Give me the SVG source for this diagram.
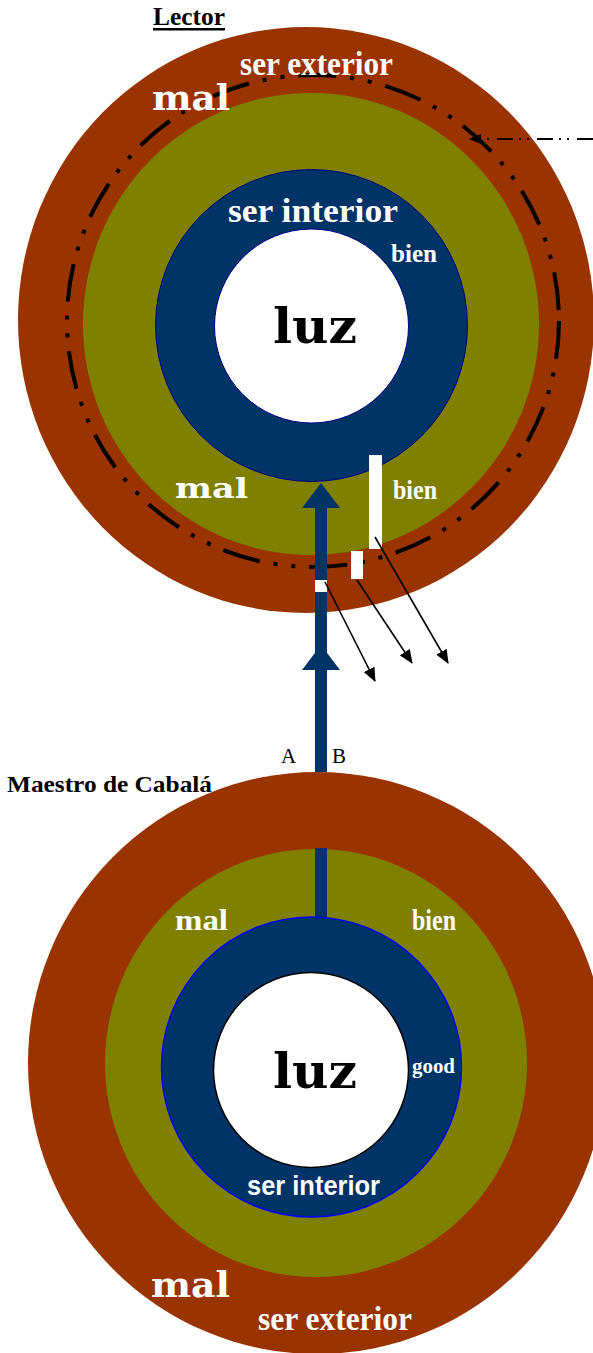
<svg xmlns="http://www.w3.org/2000/svg" width="593" height="1353" viewBox="0 0 593 1353">
<defs>
<style>
.brown{fill:#993300}
.olive{fill:#808000}
.navy{fill:#003366}
.w{fill:#ffffff}
.t{fill:#ffffff;font-family:"Liberation Serif","Times New Roman",serif;font-weight:bold}
.wide{fill:#ffffff;font-family:"DejaVu Serif",serif;font-weight:bold}
.blk{fill:#000000;font-family:"Liberation Serif","Times New Roman",serif}
.thin{stroke:#000;stroke-width:1.6;fill:none}
</style>
<marker id="ah" markerUnits="userSpaceOnUse" markerWidth="14" markerHeight="12" refX="13" refY="6" orient="auto">
<path d="M0,0 L14,6 L0,12 Z" fill="#000"/>
</marker>
<marker id="ahs" markerUnits="userSpaceOnUse" markerWidth="12" markerHeight="10" refX="11" refY="5" orient="auto">
<path d="M0,0 L12,5 L0,10 Z" fill="#000"/>
</marker>
</defs>

<text class="blk" x="153" y="25" font-size="25" font-weight="bold" textLength="72" lengthAdjust="spacingAndGlyphs">Lector</text>
<rect x="153" y="28" width="72" height="2.5" fill="#000"/>

<g id="top-circle">
<ellipse class="brown" cx="306" cy="320" rx="288" ry="293"/>
<ellipse class="olive" cx="311" cy="324" rx="228" ry="231"/>
<circle cx="311.5" cy="325.5" r="156" fill="#003366" stroke="#000080" stroke-width="1"/>
<circle cx="311.5" cy="326" r="97" fill="#ffffff" stroke="#000080" stroke-width="1"/>
<circle cx="313" cy="321" r="246" fill="none" stroke="#000" stroke-width="4" stroke-dasharray="38 14 4 14 4 14"/>
</g>

<g id="top-labels">
<text class="t" x="240" y="75" font-size="33" textLength="153" lengthAdjust="spacingAndGlyphs">ser exterior</text>
<text class="wide" x="152" y="110" font-size="36" textLength="78" lengthAdjust="spacingAndGlyphs">mal</text>
<text class="t" x="228" y="222" font-size="34" textLength="170" lengthAdjust="spacingAndGlyphs">ser interior</text>
<text class="t" x="391" y="262" font-size="26" textLength="46" lengthAdjust="spacingAndGlyphs">bien</text>
<text class="wide" x="273" y="343" font-size="48" fill="#000" style="fill:#000" textLength="84" lengthAdjust="spacingAndGlyphs">luz</text>
<text class="wide" x="175" y="498" font-size="27" textLength="73" lengthAdjust="spacingAndGlyphs">mal</text>
<text class="t" x="393" y="499" font-size="28" textLength="44" lengthAdjust="spacingAndGlyphs">bien</text>
</g>

<g id="connectors">
<rect class="navy" x="315" y="506" width="12" height="266"/>
<path class="navy" d="M321,483 L340,508 L302,508 Z"/>
<path class="navy" d="M321,645 L340,670 L302,670 Z"/>
<rect class="w" x="315" y="580" width="12" height="12"/>
<rect class="w" x="369" y="455" width="13" height="94"/>
<rect class="w" x="351" y="551" width="12" height="28"/>
<line class="thin" x1="325" y1="582" x2="375" y2="681" marker-end="url(#ah)"/>
<line class="thin" x1="357" y1="580" x2="412" y2="663" marker-end="url(#ah)"/>
<line class="thin" x1="375" y1="537" x2="448" y2="663" marker-end="url(#ah)"/>
<line x1="593" y1="139" x2="470" y2="139" stroke="#000" stroke-width="2" stroke-dasharray="16 8 2 6 2 6" marker-end="url(#ahs)"/>
</g>

<g id="ab-labels">
<text class="blk" x="281" y="763" font-size="21">A</text>
<text class="blk" x="332" y="763" font-size="21">B</text>
<text class="blk" x="7" y="792" font-size="24" font-weight="bold" textLength="205" lengthAdjust="spacingAndGlyphs">Maestro de Cabalá</text>
</g>

<g id="bottom-circle">
<ellipse class="brown" cx="317" cy="1063" rx="289" ry="291"/>
<ellipse class="olive" cx="316" cy="1063" rx="211" ry="214"/>
<rect class="navy" x="315" y="848" width="12" height="75"/>
<circle cx="311.5" cy="1067" r="150" fill="#003366" stroke="#0000ff" stroke-width="1.5"/>
<circle cx="311" cy="1070" r="97.5" fill="#ffffff" stroke="#000" stroke-width="1.5"/>
</g>

<g id="bottom-labels">
<text class="t" x="175" y="930" font-size="30" textLength="53" lengthAdjust="spacingAndGlyphs">mal</text>
<text class="t" x="412" y="930" font-size="30" textLength="44" lengthAdjust="spacingAndGlyphs">bien</text>
<text class="wide" x="273" y="1088" font-size="48" style="fill:#000" textLength="84" lengthAdjust="spacingAndGlyphs">luz</text>
<text class="t" x="412" y="1073" font-size="22" textLength="43" lengthAdjust="spacingAndGlyphs">good</text>
<text x="247" y="1195" font-size="28" fill="#fff" font-family="Liberation Sans, Arial, sans-serif" font-weight="bold" textLength="133" lengthAdjust="spacingAndGlyphs">ser interior</text>
<text class="wide" x="151" y="1297" font-size="36" textLength="79" lengthAdjust="spacingAndGlyphs">mal</text>
<text class="t" x="258" y="1330" font-size="33" textLength="154" lengthAdjust="spacingAndGlyphs">ser exterior</text>
</g>
</svg>
